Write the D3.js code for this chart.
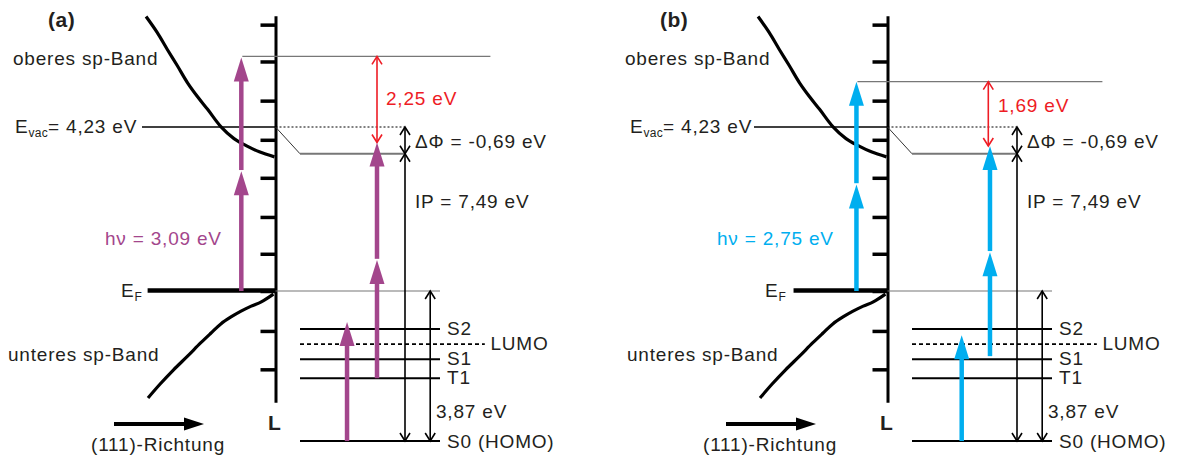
<!DOCTYPE html>
<html>
<head>
<meta charset="utf-8">
<script src="https://cdn.jsdelivr.net/npm/d3@7"></script>
<style>
  body { margin: 0; background: #fff; }
  svg text { font-family: "Liberation Sans", Arial, sans-serif; font-size: 19px; letter-spacing: 0.8px; fill: #231f20; }
</style>
</head>
<body>
<svg id="chart" width="1177" height="461"></svg>
<script>
// energies in eV, relative to the Fermi level
const panelNames = ['(a)', '(b)'];
const arrowColors = ['#a3468c', '#00aeef'];
const photonLabels = ['hν = 3,09 eV', 'hν = 2,75 eV'];
const gapLabels = ['2,25 eV', '1,69 eV'];
const upperLevel = [6.05, 5.40];            // final state reached by 2 photons
const bandSteps = [[0, 3.09, 6.02], [0, 2.75, 5.40]];   // two-photon arrow in the metal
const molArrow1 = [[-3.87, -0.80], [-3.87, -1.14]];     // S0 -> hν
const molArrow2 = [[-2.25, 0.80, 3.83], [-1.68, 1.00, 3.74]];
const evac = 4.23;
const dPhi = -0.69;

const levelNames = ['S2', 'LUMO', 'S1', 'T1', 'S0 (HOMO)'];
const levelE = [-0.98, -1.37, -1.76, -2.25, -3.87];

// band structure along (111) towards L (k = 1 at L)
const upperBandK = [0.008, 0.093, 0.171, 0.248, 0.326, 0.403, 0.481, 0.581, 0.682, 0.775, 0.876, 0.992];
const upperBandE = [7.08, 6.67, 6.23, 5.81, 5.37, 5.01, 4.68, 4.24, 3.93, 3.75, 3.59, 3.46];
const lowerBandK = [0.023, 0.116, 0.217, 0.326, 0.426, 0.504, 0.581, 0.659, 0.736, 0.814, 0.891, 0.984];
const lowerBandE = [-2.76, -2.40, -2.04, -1.68, -1.34, -1.09, -0.85, -0.67, -0.52, -0.39, -0.28, -0.08];
const axisTicks = [6.87, 5.92, 4.91, 3.9, 2.92, 1.91, 0.96, 0, -1.03, -2.02];
const bandArrowK = [0.738, 0.762];
const efLineStart = [0.02, 0.28];

const svg = d3.select('#chart');
const y = d3.scaleLinear().domain([0, evac]).range([291, 127]);
const xk = d3.scaleLinear().domain([0, 1]).range([145, 275.5]);
const xm = d3.scaleLinear().domain([0, 1]).range([300, 440]);
const ink = '#231f20';

function upArrow(g, x, e0, e1, color) {
  const head = 24, hw = 7.5;
  g.append('line')
    .attr('x1', x).attr('x2', x)
    .attr('y1', y(e0)).attr('y2', y(e1) + head - 2)
    .attr('stroke', color).attr('stroke-width', 4.5);
  g.append('path')
    .attr('d', `M${x},${y(e1)}L${x - hw},${y(e1) + head}L${x + hw},${y(e1) + head}Z`)
    .attr('fill', color);
}

function dblArrow(g, x, eTop, eBot, color) {
  const ya = y(eTop), yb = y(eBot);
  g.append('line').attr('x1', x).attr('x2', x).attr('y1', ya).attr('y2', yb)
    .attr('stroke', color).attr('stroke-width', 1.6);
  g.append('path')
    .attr('d', `M${x - 5},${ya + 8}L${x},${ya}L${x + 5},${ya + 8}M${x - 5},${yb - 8}L${x},${yb}L${x + 5},${yb - 8}`)
    .attr('fill', 'none').attr('stroke', color).attr('stroke-width', 1.6);
}

function hline(g, x1, x2, e, color, w, dash) {
  return g.append('line').attr('x1', x1).attr('x2', x2).attr('y1', y(e)).attr('y2', y(e))
    .attr('stroke', color).attr('stroke-width', w).attr('stroke-dasharray', dash || null);
}

function label(g, x, yy, main, sub, rest, color) {
  const t = g.append('text').attr('x', x).attr('y', yy).style('fill', color || ink);
  t.append('tspan').text(main);
  if (sub) t.append('tspan').attr('dy', 4).style('font-size', '12px').style('letter-spacing', '0.3px').text(sub);
  if (rest) t.append('tspan').attr('dy', sub ? -4 : 0).text(rest);
  return t;
}

const bandLine = d3.line().x(d => xk(d[0])).y(d => y(d[1])).curve(d3.curveCatmullRom);

[0, 1].forEach(p => {
  const g = svg.append('g').attr('transform', `translate(${p * 612},0)`);
  const col = arrowColors[p];
  const axX = xk(1);

  // panel letter
  g.append('text').attr('x', 48).attr('y', 27).style('font-weight', 'bold').style('font-size', '21px')
    .style('letter-spacing', '0.5px').text(panelNames[p]);

  // energy axis at L
  const yAx = y.copy().domain([-2.87, 7.1]).range([y(-2.87), y(7.1)]);
  const ax = g.append('g').attr('transform', `translate(${axX},0)`)
    .call(d3.axisLeft(yAx).tickValues(axisTicks).tickSize(15).tickSizeOuter(0).tickFormat(''));
  ax.select('.domain').attr('stroke', '#000').attr('stroke-width', 3);
  ax.selectAll('.tick line').attr('stroke', '#000').attr('stroke-width', 3.5);

  // bands
  g.append('path').datum(d3.zip(upperBandK, upperBandE)).attr('d', bandLine)
    .attr('fill', 'none').attr('stroke', '#000').attr('stroke-width', 3.2);
  g.append('path').datum(d3.zip(lowerBandK, lowerBandE)).attr('d', bandLine)
    .attr('fill', 'none').attr('stroke', '#000').attr('stroke-width', 3.2);

  // Fermi level
  g.append('line').attr('x1', xk(efLineStart[p])).attr('x2', axX).attr('y1', y(0) - 0.5).attr('y2', y(0) - 0.5)
    .attr('stroke', '#000').attr('stroke-width', 4.5);
  hline(g, axX, xm(1), 0, '#777', 1.2);
  label(g, p === 0 ? 121 : 153, y(0) + 6, 'E', 'F');

  // vacuum level and work-function change
  hline(g, 142, axX, evac, '#000', 1.3);
  hline(g, axX, xm(0.75), evac, '#000', 1, '2,2');
  g.append('path')
    .attr('d', `M${axX},${y(evac)}L${xm(0)},${y(evac + dPhi)}`)
    .attr('stroke', '#333').attr('stroke-width', 1).attr('fill', 'none');
  hline(g, xm(0), xm(0.75), evac + dPhi, '#777', 2);
  label(g, p === 0 ? 15 : 18, y(evac) + 6, 'E', 'vac', '= 4,23 eV');

  // final-state level
  const bx = xk(bandArrowK[p]);
  hline(g, bx + 1, xm(1.36), upperLevel[p], '#777', 1.3);

  // molecular levels
  levelNames.forEach((n, i) => {
    const dashed = n === 'LUMO';
    hline(g, xm(0), xm(dashed ? 1.32 : 1), levelE[i], '#000', dashed ? 1.6 : 2, dashed ? '4,3' : null);
    const lx = dashed ? xm(1.36) : xm(1.05);
    g.append('text').attr('x', lx).attr('y', y(levelE[i]) + (n.startsWith('S0') ? 7 : 6)).text(n);
  });

  // black energy arrows
  dblArrow(g, xm(0.75), evac, evac + dPhi, '#000');
  dblArrow(g, xm(0.75), evac + dPhi, levelE[4], '#000');
  dblArrow(g, xm(0.93), 0, levelE[4], '#000');

  // red gap arrow
  dblArrow(g, xm(p === 0 ? 0.55 : 0.545), upperLevel[p], molArrow2[p][2], '#ee1c25');

  // photon arrows
  const s = bandSteps[p];
  upArrow(g, bx, s[0], s[1], col);
  upArrow(g, bx, s[1] + 0.03, s[2], col);
  upArrow(g, xm(p === 0 ? 0.336 : 0.355), molArrow1[p][0], molArrow1[p][1], col);
  const m = molArrow2[p];
  upArrow(g, xm(p === 0 ? 0.55 : 0.557), m[0], m[1], col);
  upArrow(g, xm(p === 0 ? 0.55 : 0.557), m[1] + 0.03, m[2], col);

  // texts
  g.append('text').attr('x', 13).attr('y', 65).text('oberes sp-Band');
  g.append('text').attr('x', p === 0 ? 8 : 15).attr('y', 361).text('unteres sp-Band');
  g.append('text').attr('x', 105).attr('y', 245).style('fill', col).text(photonLabels[p]);
  g.append('text').attr('x', 386).attr('y', p === 0 ? 105 : 112).style('fill', '#ee1c25').text(gapLabels[p]);
  g.append('text').attr('x', 415).attr('y', 148).text('ΔΦ = -0,69 eV');
  g.append('text').attr('x', 415).attr('y', 208).text('IP = 7,49 eV');
  g.append('text').attr('x', 436).attr('y', 418).text('3,87 eV');
  g.append('text').attr('x', 268).attr('y', 430).style('font-weight', 'bold').style('font-size', '21px').text('L');

  // (111) direction arrow
  g.append('line').attr('x1', 114).attr('x2', 186).attr('y1', 424).attr('y2', 424)
    .attr('stroke', '#000').attr('stroke-width', 4);
  g.append('path').attr('d', 'M204,424L184,417.5L184,430.5Z').attr('fill', '#000');
  g.append('text').attr('x', 91).attr('y', 451).text('(111)-Richtung');
});
</script>
</body>
</html>
